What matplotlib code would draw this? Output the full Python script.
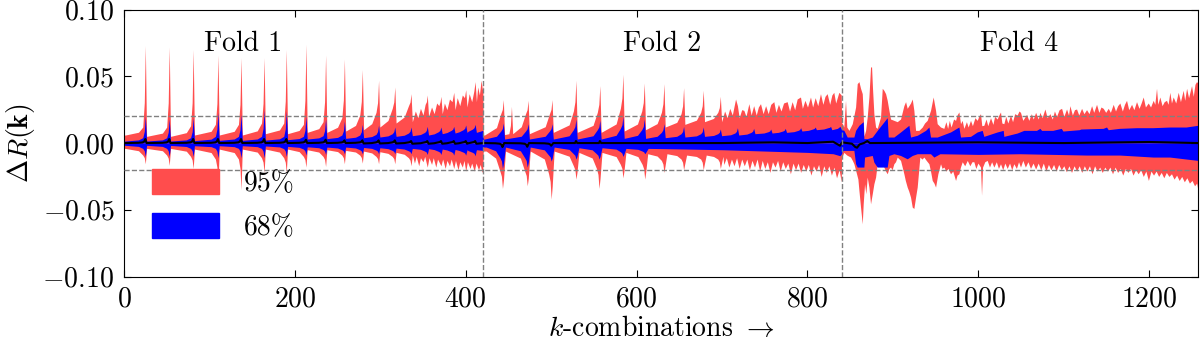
import matplotlib.pyplot as plt
from matplotlib.patches import Patch

plt.rcParams['font.family'] = 'serif'
plt.rcParams['font.serif'] = ['cmr10']
plt.rcParams['mathtext.fontset'] = 'cm'
plt.rcParams['axes.formatter.use_mathtext'] = True

RED = '#ff4d4d'
BLUE = '#0000ff'

# ---------------- Fold 1 (k = 0 .. 420) ----------------
f1_spikes = [25, 53, 81, 110, 137, 164, 190, 213, 236, 258, 279, 298, 317, 336,
             355, 371, 386, 400, 411]

f1_rt_peak = [0.073, 0.072, 0.070, 0.066, 0.064, 0.064, 0.070, 0.074, 0.066, 0.063,
              0.055, 0.047, 0.042, 0.037]
f1_rt_shoulder = [0.012, 0.012, 0.013, 0.014, 0.014, 0.015, 0.015, 0.014, 0.016, 0.019,
                  0.021, 0.023, 0.026, 0.028]
f1_rt_base = [0.006, 0.005, 0.005, 0.006, 0.006, 0.006, 0.007, 0.007, 0.008, 0.008,
              0.009, 0.010, 0.012, 0.015]
f1_rt_tail = [(337.5, 0.016), (341, 0.024), (344, 0.019), (347, 0.026), (350, 0.021),
              (352.5, 0.029), (354, 0.031), (355, 0.036), (356.5, 0.020), (360, 0.027),
              (363, 0.022), (366, 0.030), (368.5, 0.028), (370, 0.031), (371, 0.035),
              (372.5, 0.022), (375, 0.030), (378, 0.025), (381, 0.033), (384, 0.031),
              (386, 0.038), (387.5, 0.025), (390, 0.034), (393, 0.028), (396, 0.036),
              (398.5, 0.034), (400, 0.040), (401.5, 0.027), (404, 0.037), (407, 0.031),
              (409.5, 0.039), (411, 0.046), (412.5, 0.031), (414, 0.042), (416, 0.036),
              (418, 0.047), (419.5, 0.040), (420, 0.044)]

f1_rb_peak = [-0.0155, -0.0167, -0.019, -0.032, -0.035, -0.022, -0.022, -0.018, -0.0175,
              -0.0155, -0.015, -0.0155, -0.0155, -0.017]
f1_rb_shoulder = [-0.009, -0.009, -0.010, -0.012, -0.012, -0.011, -0.011, -0.010, -0.010,
                  -0.009, -0.009, -0.010, -0.010, -0.011]
f1_rb_base = [-0.004, -0.004, -0.004, -0.0045, -0.0045, -0.0045, -0.0045, -0.0045, -0.005,
              -0.005, -0.0055, -0.006, -0.0065, -0.007]
f1_rb_tail = [(337.5, -0.009), (340, -0.015), (342, -0.010), (345, -0.017), (347, -0.011),
              (350, -0.014), (352, -0.010), (355, -0.018), (357, -0.011), (360, -0.016),
              (362, -0.011), (365, -0.018), (367, -0.012), (371, -0.017), (373, -0.012),
              (376, -0.019), (378, -0.013), (381, -0.017), (383, -0.012), (386, -0.019),
              (388, -0.013), (391, -0.020), (393, -0.014), (396, -0.018), (398, -0.013),
              (400, -0.021), (402, -0.014), (405, -0.019), (407, -0.015), (410, -0.021),
              (412, -0.015), (415, -0.020), (417, -0.016), (419, -0.022), (420, -0.020)]

f1_bt_peak = [0.020, 0.018, 0.019, 0.023, 0.0215, 0.025, 0.024, 0.020, 0.018, 0.0165,
              0.014, 0.0135, 0.012, 0.012, 0.0125, 0.012, 0.0125, 0.0135, 0.014]
f1_bt_shoulder = [0.004, 0.004, 0.004, 0.005, 0.005, 0.005, 0.005, 0.005, 0.0055, 0.006,
                  0.006, 0.0065, 0.007, 0.0075, 0.008, 0.0085, 0.0095, 0.010, 0.0105]
f1_bt_base = [0.0015, 0.0015, 0.0015, 0.0018, 0.002, 0.002, 0.0022, 0.0025, 0.003, 0.0033,
              0.0035, 0.004, 0.0045, 0.005, 0.0055, 0.006, 0.007, 0.0075, 0.008]
f1_bt_tail = [(412.5, 0.008), (420, 0.0095)]

f1_bb_peak = [-0.010, -0.010, -0.010, -0.011, -0.011, -0.011, -0.010, -0.009, -0.0085,
              -0.008, -0.008, -0.008, -0.008, -0.008, -0.0085, -0.0085, -0.009, -0.009,
              -0.0095]
f1_bb_shoulder = [-0.004, -0.004, -0.004, -0.004, -0.004, -0.004, -0.0042, -0.0045,
                  -0.0048, -0.005, -0.005, -0.0053, -0.0055, -0.0058, -0.006, -0.0062,
                  -0.0065, -0.0068, -0.007]
f1_bb_base = [-0.0017, -0.0017, -0.0018, -0.002, -0.002, -0.002, -0.0022, -0.0025, -0.0028,
              -0.003, -0.003, -0.0033, -0.0035, -0.0038, -0.004, -0.0042, -0.0045, -0.0048,
              -0.005]
f1_bb_tail = [(412.5, -0.005), (420, -0.0055)]

f1_md_peak = [0.003, 0.003, 0.003, 0.003, 0.003, 0.003, 0.003, 0.0025, 0.0025, 0.002,
              0.002, 0.002, 0.002, 0.0015, 0.0015, 0.0015, 0.0015, 0.0015, 0.0015]
f1_md_shoulder = [0.0005, 0.0005, 0.0005, 0.0005, 0.0005, 0.0005, 0.0005, 0.0005, 0.0005,
                  0.0005, 0.0005, 0.0005, 0.0005, 0.0005, 0.0005, 0.0005, 0.0005, 0.0005,
                  0.0005]
f1_md_base = [0.0, 0.0, 0.0, 0.0, 0.0, 0.0, 0.0, 0.0, 0.0, 0.0, 0.0, -0.0003, -0.0003,
              -0.0003, -0.0005, -0.0005, -0.0005, -0.0005, -0.0005]
f1_md_tail = [(412.5, -0.0005), (420, 0.0)]

# ---------------- Fold 2 (k = 420 .. 840) ----------------
f2_rt_spikes = [444, 453.5, 473, 501, 529, 557, 584, 609, 632, 655, 678, 698]
f2_rt_peak = [0.0325, 0.0275, 0.032, 0.0325, 0.047, 0.043, 0.0515, 0.045, 0.0445, 0.0415,
              0.0395, 0.035]
f2_rt_shoulder = [0.022, 0.007, 0.022, 0.022, 0.024, 0.023, 0.026, 0.024, 0.023, 0.022,
                  0.023, 0.023]
f2_rt_base = [0.006, 0.006, 0.007, 0.007, 0.008, 0.008, 0.008, 0.009, 0.010, 0.012, 0.014,
              0.016]
f2_rt_tail = [(699.5, 0.016), (703, 0.024), (706, 0.019), (709, 0.026), (712, 0.021),
              (715.8, 0.033), (718, 0.028), (720, 0.019), (723, 0.025), (725.5, 0.0245),
              (728, 0.020), (731.4, 0.0295), (734, 0.021), (737, 0.028), (740, 0.021),
              (742.5, 0.027), (745, 0.0295), (748, 0.022), (751, 0.028), (754, 0.022),
              (757, 0.029), (760.6, 0.031), (763, 0.023), (766, 0.029), (769, 0.024),
              (772, 0.030), (776.2, 0.031), (779, 0.024), (782, 0.031), (785, 0.025),
              (787.9, 0.033), (791.8, 0.0345), (794, 0.026), (797, 0.032), (800, 0.027),
              (803.5, 0.0345), (806, 0.027), (809, 0.034), (812, 0.028), (815.2, 0.037),
              (818, 0.029), (820.5, 0.035), (823, 0.037), (826, 0.029), (828.5, 0.036),
              (830.8, 0.038), (833, 0.030), (836.7, 0.038), (839.5, 0.036), (840, 0.015)]

f2_rb_spikes = [443, 472, 500, 529, 556, 584, 609.5, 632, 655, 678, 698]
f2_rb_peak = [-0.034, -0.032, -0.042, -0.027, -0.034, -0.026, -0.027, -0.022, -0.020,
              -0.020, -0.019]
f2_rb_shoulder = [-0.021, -0.021, -0.023, -0.017, -0.019, -0.016, -0.016, -0.013, -0.012,
                  -0.012, -0.012]
f2_rb_base = [-0.006, -0.006, -0.006, -0.006, -0.007, -0.007, -0.007, -0.008, -0.008,
              -0.009, -0.009]
f2_rb_tail = [(701, -0.010), (702, -0.016), (705, -0.011), (708, -0.018), (711, -0.012),
              (714, -0.017), (717, -0.011), (720, -0.019), (723, -0.012), (726, -0.017),
              (729, -0.012), (732, -0.020), (735, -0.013), (738, -0.018), (741, -0.012),
              (744, -0.021), (747, -0.013), (750, -0.019), (753, -0.014), (756, -0.022),
              (759, -0.014), (762, -0.018), (765, -0.013), (768, -0.021), (771, -0.014),
              (774, -0.019), (777, -0.015), (780, -0.023), (783, -0.015), (786, -0.020),
              (789, -0.015), (792, -0.022), (795, -0.016), (798, -0.021), (801, -0.016),
              (804, -0.024), (807, -0.017), (810, -0.021), (813, -0.016), (816, -0.025),
              (819, -0.017), (822, -0.022), (825, -0.017), (828, -0.024), (831, -0.018),
              (834, -0.026), (837, -0.020), (839.5, -0.029), (840, -0.010)]

f2_bt_spikes = [444, 473, 501, 529, 557, 584, 609, 632, 655, 678, 698, 718, 737, 757, 774,
                792, 809, 827]
f2_bt_peak = [0.015, 0.0145, 0.0145, 0.018, 0.017, 0.020, 0.018, 0.0145, 0.0125, 0.012,
              0.0105, 0.0115, 0.011, 0.0105, 0.011, 0.0115, 0.012, 0.0125]
f2_bt_shoulder = [0.009, 0.009, 0.009, 0.010, 0.010, 0.011, 0.010, 0.008, 0.007, 0.007,
                  0.007, 0.0075, 0.008, 0.0085, 0.009, 0.0095, 0.0105, 0.0115]
f2_bt_base = [0.003, 0.003, 0.003, 0.003, 0.003, 0.003, 0.0035, 0.0035, 0.004, 0.0045,
              0.005, 0.0055, 0.006, 0.007, 0.0075, 0.008, 0.009, 0.010]
f2_bt_tail = [(828.5, 0.010), (835, 0.011), (838, 0.0125), (840, 0.010)]

f2_bb_spikes = [443, 472, 500, 529, 556, 584, 609.5]
f2_bb_peak = [-0.019, -0.018, -0.0135, -0.012, -0.012, -0.010, -0.008]
f2_bb_shoulder = [-0.011, -0.011, -0.009, -0.008, -0.008, -0.0065, -0.006]
f2_bb_base = [-0.003, -0.003, -0.003, -0.003, -0.0035, -0.0035, -0.004]
f2_bb_tail = [(613.5, -0.004), (660, -0.0045), (700, -0.005), (750, -0.006),
              (800, -0.007), (830, -0.008), (838, -0.0095), (840, -0.008)]

f2_md_spikes = [443, 472, 500]
f2_md_peak = [-0.003, -0.0028, -0.002]
f2_md_shoulder = [-0.0005, -0.0005, -0.0005]
f2_md_base = [0.0, 0.0, 0.0]
f2_md_tail = [(502.5, 0.0), (528, 0.0), (529, 0.0015), (530.5, 0.0), (556, 0.0),
              (557, 0.0015), (558.5, 0.0), (700, 0.0), (760, 0.0005), (800, 0.0),
              (830, 0.001), (838, -0.002), (840, 0.0)]

# ---------------- Fold 4 (k = 840 .. 1257) ----------------
f4_rt = [(840.5, 0.015), (842.5, 0.012), (844.5, 0.032), (846, 0.012), (848.5, 0.0095),
         (852.4, 0.0145), (856.3, 0.027), (858.2, 0.0445), (860.2, 0.046), (862.1, 0.041),
         (864.1, 0.037), (865.2, 0.022), (866.0, 0.005), (868.0, 0.0095), (869.9, 0.0195),
         (871.9, 0.0345), (873.8, 0.057), (875.0, 0.057), (876.1, 0.041), (877.7, 0.022),
         (879.7, 0.012), (881.6, 0.011), (885.5, 0.0195), (887.5, 0.041), (889.4, 0.0395),
         (891.4, 0.037), (893.3, 0.032), (895.3, 0.0245), (897.2, 0.018), (901.1, 0.017),
         (905.0, 0.016), (908.9, 0.018), (912.8, 0.028), (914.8, 0.031), (916.7, 0.026),
         (920.6, 0.030), (922.6, 0.033), (924.5, 0.0245), (926.5, 0.0095), (930.4, 0.0095),
         (934.3, 0.012), (937, 0.015), (940.1, 0.017), (944.0, 0.0245), (947.1, 0.0345),
         (949.9, 0.0245), (951.8, 0.0145), (955.7, 0.012), (959.6, 0.011), (962, 0.016),
         (964, 0.011), (966, 0.017), (968, 0.012), (971, 0.018), (973.3, 0.017),
         (975, 0.021), (977.2, 0.0233), (979.1, 0.0145), (981, 0.017), (983, 0.011),
         (986, 0.016), (988, 0.012), (990.8, 0.017), (993, 0.013), (996, 0.019),
         (998.6, 0.017), (1000.5, 0.020), (1002.5, 0.022), (1004, 0.013), (1006.4, 0.0133),
         (1009, 0.018), (1011, 0.013), (1014.2, 0.019), (1017, 0.014), (1019, 0.020),
         (1022, 0.018), (1024, 0.021), (1025.9, 0.0233), (1027.5, 0.015), (1029.8, 0.0145),
         (1032, 0.020), (1034.5, 0.015), (1037.6, 0.021), (1040, 0.016), (1042.5, 0.022),
         (1045.4, 0.021), (1047.5, 0.024), (1049.3, 0.023), (1052, 0.017), (1056.4, 0.0215),
         (1059, 0.017), (1062, 0.022), (1064.2, 0.018), (1067, 0.023), (1070, 0.018),
         (1072, 0.023), (1074.5, 0.019), (1077.9, 0.0255), (1080.5, 0.019), (1083.7, 0.022),
         (1086.5, 0.018), (1089, 0.024), (1091.5, 0.020), (1094.5, 0.025), (1097.4, 0.026),
         (1100, 0.020), (1103.2, 0.0255), (1105.5, 0.021), (1107.1, 0.028), (1110, 0.021),
         (1112.5, 0.025), (1114.9, 0.0255), (1117.5, 0.021), (1120.8, 0.026), (1123.5, 0.022),
         (1126.6, 0.025), (1129.5, 0.022), (1132.5, 0.028), (1135, 0.023), (1138.3, 0.029),
         (1141, 0.023), (1143.5, 0.027), (1146.1, 0.026), (1149, 0.023), (1152, 0.026),
         (1154.5, 0.023), (1157.8, 0.029), (1160.5, 0.024), (1163, 0.028), (1165.6, 0.030),
         (1168.5, 0.024), (1171, 0.029), (1173.4, 0.032), (1176, 0.025), (1179.3, 0.029),
         (1182, 0.025), (1185.1, 0.031), (1188, 0.026), (1190.5, 0.030), (1192.9, 0.0345),
         (1195.5, 0.027), (1198.8, 0.030), (1201.5, 0.027), (1204.6, 0.032), (1206.5, 0.029),
         (1208.5, 0.041), (1210, 0.029), (1212.4, 0.0345), (1215, 0.028), (1217.5, 0.031),
         (1220.2, 0.032), (1222, 0.029), (1224.1, 0.038), (1226, 0.030), (1228, 0.0345),
         (1231, 0.030), (1233.9, 0.038), (1236.5, 0.031), (1239.7, 0.0395), (1241.5, 0.032),
         (1243.7, 0.041), (1246, 0.034), (1249.5, 0.043), (1251.5, 0.035), (1253.5, 0.044),
         (1255.3, 0.046), (1257, 0.045)]

f4_rb = [(840.5, -0.010), (842.6, -0.007), (846, -0.009), (850.4, -0.0105), (852.5, -0.013),
         (854.3, -0.0155), (857.4, -0.023), (859, -0.027), (860.2, -0.0355), (862.1, -0.048),
         (864.1, -0.0605), (865.2, -0.0455), (866.8, -0.0305), (868.3, -0.038),
         (869.9, -0.0255), (871.9, -0.033), (873.8, -0.0455), (875.8, -0.038),
         (877.7, -0.0305), (879.7, -0.0255), (881.6, -0.0155), (883.6, -0.008),
         (885.5, -0.013), (887.5, -0.016), (889.4, -0.018), (891.4, -0.021), (893.3, -0.023),
         (895.3, -0.019), (897.2, -0.018), (899, -0.020), (901.1, -0.0155), (903, -0.014),
         (905.0, -0.0105), (908.9, -0.013), (912.8, -0.023), (914.5, -0.028),
         (916.7, -0.033), (918.5, -0.036), (920.6, -0.0405), (922.6, -0.048),
         (924.5, -0.049), (926.5, -0.0405), (928.4, -0.033), (931.5, -0.0105),
         (934, -0.012), (936.2, -0.0105), (939, -0.013), (942.1, -0.0155), (944, -0.021),
         (946.0, -0.028), (948, -0.030), (949.9, -0.033), (952.6, -0.023), (955.7, -0.0155),
         (957.5, -0.019), (959.6, -0.018), (962, -0.021), (964.5, -0.019), (967.4, -0.023),
         (970, -0.021), (973.3, -0.028), (975, -0.024), (977.2, -0.023), (979, -0.018),
         (981.1, -0.014), (984, -0.017), (987.0, -0.013), (990, -0.017), (992.5, -0.014),
         (994.7, -0.014), (997, -0.019), (999.5, -0.015), (1002.5, -0.018), (1003.7, -0.039),
         (1004.9, -0.018), (1007.5, -0.014), (1010.3, -0.013), (1013, -0.018),
         (1015.5, -0.014), (1018.1, -0.018), (1021, -0.014), (1023.5, -0.019),
         (1025.9, -0.0155), (1028.5, -0.020), (1031, -0.015), (1033.7, -0.019),
         (1036.5, -0.015), (1039, -0.020), (1041.5, -0.0155), (1044.5, -0.019),
         (1047, -0.014), (1049.3, -0.018), (1052, -0.013), (1055, -0.018), (1058, -0.014),
         (1061, -0.019), (1064, -0.015), (1067, -0.0195), (1070, -0.015), (1073, -0.020),
         (1076, -0.015), (1079, -0.021), (1082, -0.016), (1085, -0.020), (1088, -0.016),
         (1091, -0.021), (1094, -0.016), (1097, -0.020), (1100, -0.017), (1103, -0.0215),
         (1106, -0.017), (1109, -0.022), (1112, -0.017), (1115, -0.021), (1118, -0.017),
         (1121, -0.022), (1124, -0.017), (1127, -0.021), (1130, -0.017), (1133, -0.023),
         (1136, -0.017), (1139, -0.021), (1142, -0.018), (1145, -0.022), (1148, -0.018),
         (1151, -0.021), (1154, -0.018), (1157, -0.023), (1160, -0.018), (1163, -0.022),
         (1166, -0.019), (1169, -0.024), (1172, -0.019), (1175, -0.022), (1178, -0.019),
         (1181, -0.024), (1184, -0.020), (1187, -0.023), (1190, -0.020), (1193, -0.025),
         (1196, -0.021), (1199, -0.028), (1202, -0.021), (1205, -0.024), (1208, -0.021),
         (1211, -0.025), (1214, -0.022), (1217, -0.026), (1220, -0.022), (1223, -0.025),
         (1226, -0.023), (1229, -0.027), (1232, -0.024), (1235, -0.028), (1238, -0.025),
         (1241, -0.029), (1244, -0.026), (1247, -0.030), (1250, -0.028), (1253, -0.032),
         (1255.5, -0.030), (1257, -0.0355)]

f4_bt = [(840.5, 0.010), (842.6, 0.0095), (846.5, 0.0045), (854.3, 0.0045), (856.3, 0.0095),
         (860.2, 0.0133), (865.2, 0.016), (866.0, 0.0033), (869.9, 0.0033), (875.8, 0.0045),
         (881.6, 0.0095), (889.4, 0.0158), (893.3, 0.019), (894.5, 0.0045), (901.1, 0.0045),
         (908.9, 0.0083), (918.7, 0.0133), (920.6, 0.0045), (928.4, 0.0058), (938.2, 0.0095),
         (942.1, 0.012), (944.0, 0.0045), (951.8, 0.0045), (967.4, 0.0083), (977.2, 0.012),
         (979.1, 0.0045), (990.8, 0.0050), (998.6, 0.0083), (1004.5, 0.0095),
         (1006.4, 0.0050), (1022, 0.0083), (1029.1, 0.0095), (1029.8, 0.0050),
         (1045.4, 0.0075), (1053.2, 0.0095), (1068, 0.0095), (1072, 0.011), (1074, 0.0095),
         (1087, 0.0095), (1097, 0.011), (1099, 0.009), (1118, 0.010), (1120, 0.0105),
         (1146, 0.011), (1150, 0.012), (1152, 0.010), (1165, 0.011), (1185, 0.0115),
         (1204, 0.0115), (1224, 0.012), (1243, 0.012), (1257, 0.0133)]

f4_bb = [(840.5, -0.006), (842.6, -0.0055), (854.3, -0.0055), (856.3, -0.0155),
         (858.2, -0.018), (866, -0.018), (866.8, -0.0105), (875.8, -0.0093),
         (877.7, -0.0143), (881.6, -0.018), (893.3, -0.018), (895.3, -0.0093),
         (901.1, -0.008), (908.9, -0.0093), (916.7, -0.0118), (922.6, -0.0093),
         (928.4, -0.008), (944, -0.008), (947.9, -0.0105), (955, -0.008), (1000, -0.0085),
         (1048.6, -0.008), (1087.6, -0.0085), (1126.6, -0.009), (1165.6, -0.009),
         (1204.6, -0.0105), (1224, -0.0105), (1243.7, -0.012), (1257, -0.013)]

f4_md = [(840.5, 0.0005), (852, -0.0005), (856, -0.003), (858, -0.0035), (861, -0.001),
         (866, 0.0), (870, 0.0015), (873, 0.0), (1000, 0.0005), (1100, 0.0),
         (1200, 0.0008), (1257, 0.0)]

fold_names = ['Fold 1', 'Fold 2', 'Fold 4']
fold_label_x = [140, 630, 1048]
fold_edges = [420, 840]


def saw(start, spikes, peaks, shoulders, bases, reach=1.5):
    # each segment: flat level after the previous spike, slow rise, sharp spike
    xs, ys = [start], [bases[0]]
    prev = start
    for x, p, s, b in zip(spikes, peaks, shoulders, bases):
        xs += [prev + reach, x - 8, x - 3, x - 1.2, x]
        ys += [b, b + 0.35 * (s - b), s, s + 0.3 * (p - s), p]
        if reach > 2:
            # wider dips recover more slowly
            xs.append(x + 1.2)
            ys.append(s + 0.5 * (p - s))
        prev = x
    return xs, ys


def join(*parts):
    xs, ys = [], []
    for part in parts:
        if isinstance(part, tuple):
            xs += part[0]
            ys += part[1]
        else:
            xs += [p[0] for p in part]
            ys += [p[1] for p in part]
    return xs, ys


red_top = join(saw(0, f1_spikes[:14], f1_rt_peak, f1_rt_shoulder, f1_rt_base), f1_rt_tail,
               saw(420.5, f2_rt_spikes, f2_rt_peak, f2_rt_shoulder, f2_rt_base), f2_rt_tail,
               f4_rt)
red_bot = join(saw(0, f1_spikes[:14], f1_rb_peak, f1_rb_shoulder, f1_rb_base), f1_rb_tail,
               saw(420.5, f2_rb_spikes, f2_rb_peak, f2_rb_shoulder, f2_rb_base, reach=3.5),
               f2_rb_tail, f4_rb)
blue_top = join(saw(0, f1_spikes, f1_bt_peak, f1_bt_shoulder, f1_bt_base), f1_bt_tail,
                saw(420.5, f2_bt_spikes, f2_bt_peak, f2_bt_shoulder, f2_bt_base), f2_bt_tail,
                f4_bt)
blue_bot = join(saw(0, f1_spikes, f1_bb_peak, f1_bb_shoulder, f1_bb_base), f1_bb_tail,
                saw(420.5, f2_bb_spikes, f2_bb_peak, f2_bb_shoulder, f2_bb_base, reach=3.5),
                f2_bb_tail, f4_bb)
median = join(saw(0, f1_spikes, f1_md_peak, f1_md_shoulder, f1_md_base), f1_md_tail,
              saw(420.5, f2_md_spikes, f2_md_peak, f2_md_shoulder, f2_md_base, reach=2),
              f2_md_tail, f4_md)

fig = plt.figure(figsize=(12, 3.41), dpi=100)
ax = fig.add_axes([0.1033, 0.189, 0.895, 0.783])

ax.fill_between(red_top[0], 0, red_top[1], color=RED, lw=0)
ax.fill_between(red_bot[0], 0, red_bot[1], color=RED, lw=0)
ax.fill_between(blue_top[0], 0, blue_top[1], color=BLUE, lw=0)
ax.fill_between(blue_bot[0], 0, blue_bot[1], color=BLUE, lw=0)
ax.plot(median[0], median[1], color='black', lw=1.5)

for yv in [0.02, -0.02]:
    ax.axhline(yv, color='gray', ls='--', lw=1, zorder=5)
for xv in fold_edges:
    ax.axvline(xv, color='gray', ls='--', lw=1, zorder=5)

for name, xv in zip(fold_names, fold_label_x):
    ax.text(xv, 0.069, name, ha='center', va='baseline', fontsize=20)

ax.set_xlim(0, 1257)
ax.set_ylim(-0.1, 0.1)
ax.set_xticks([0, 200, 400, 600, 800, 1000, 1200])
ax.set_yticks([-0.10, -0.05, 0.00, 0.05, 0.10])
ax.tick_params(direction='in', top=True, right=True, length=5, labelsize=20, pad=7)
ax.set_xlabel(r'$k$-combinations $\rightarrow$', fontsize=20, labelpad=2)
ax.set_ylabel(r'$\Delta R(\mathbf{k})$', fontsize=20, labelpad=4)

handles = [Patch(color=RED, label='95%'), Patch(color=BLUE, label='68%')]
ax.legend(handles=handles, loc='upper left', bbox_to_anchor=(0.026, 0.404), frameon=False,
          fontsize=20, handlelength=2.4, handleheight=1.0, labelspacing=0.6,
          handletextpad=0.9, borderpad=0, borderaxespad=0)

fig.savefig('out.png', dpi=100)
